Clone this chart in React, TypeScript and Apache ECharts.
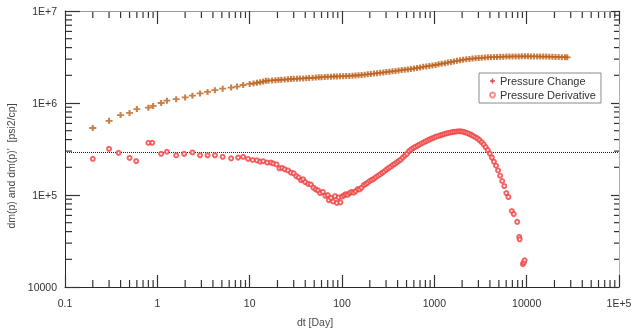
import React, { useEffect, useRef } from "react";
import * as echarts from "echarts";

// Elapsed time [day] and pseudo-pressure change dm(p) [psi2/cp]
const changeTime = [
  0.2, 0.3, 0.4, 0.5, 0.6, 0.8, 0.9, 1.1, 1.27, 1.6, 2.0, 2.4, 2.9, 3.5, 4.2, 5.1, 6.3, 7.3, 8.5,
  10, 11, 12, 13, 14, 15, 16, 17.5, 19, 20.5, 22, 24, 26, 28, 30, 32.5, 35, 38, 41, 44, 48, 52, 56,
  60, 65, 70, 76, 82, 88, 95, 103, 111, 120, 130, 140, 151, 163, 176, 190, 205, 222, 240, 259, 280,
  302, 326, 352, 380, 410, 443, 478, 516, 557, 602, 650, 702, 758, 819, 884, 955, 1030, 1110, 1200,
  1300, 1400, 1510, 1630, 1760, 1900, 2050, 2220, 2400, 2590, 2800, 3020, 3260, 3520, 3800, 4100,
  4430, 4780, 5170, 5580, 6030, 6510, 7030, 7590, 8200, 8850, 9560, 10300, 11100, 12000, 13000,
  14000, 15100, 16300, 17600, 19000, 20500, 22200, 24000, 26000, 27500,
];
const changeValue = [
  5.35e5, 6.4e5, 7.4e5, 7.8e5, 8.6e5, 8.9e5, 9.3e5, 1.0e6, 1.06e6, 1.1e6, 1.15e6, 1.2e6, 1.27e6,
  1.32e6, 1.38e6, 1.43e6, 1.47e6, 1.51e6, 1.57e6, 1.61e6, 1.63e6, 1.66e6, 1.68e6, 1.71e6, 1.74e6,
  1.75e6, 1.76e6, 1.77e6, 1.78e6, 1.79e6, 1.8e6, 1.81e6, 1.82e6, 1.83e6, 1.84e6, 1.845e6, 1.85e6,
  1.86e6, 1.87e6, 1.88e6, 1.89e6, 1.9e6, 1.91e6, 1.92e6, 1.93e6, 1.935e6, 1.94e6, 1.945e6, 1.95e6,
  1.955e6, 1.96e6, 1.97e6, 1.98e6, 1.99e6, 2.0e6, 2.02e6, 2.03e6, 2.05e6, 2.07e6, 2.09e6, 2.11e6,
  2.13e6, 2.15e6, 2.17e6, 2.19e6, 2.21e6, 2.23e6, 2.25e6, 2.28e6, 2.3e6, 2.32e6, 2.34e6, 2.37e6,
  2.4e6, 2.43e6, 2.47e6, 2.5e6, 2.53e6, 2.56e6, 2.59e6, 2.63e6, 2.67e6, 2.71e6, 2.75e6, 2.79e6,
  2.83e6, 2.87e6, 2.91e6, 2.95e6, 2.98e6, 3.01e6, 3.04e6, 3.06e6, 3.08e6, 3.1e6, 3.12e6, 3.14e6,
  3.15e6, 3.16e6, 3.17e6, 3.18e6, 3.19e6, 3.2e6, 3.2e6, 3.21e6, 3.21e6, 3.21e6, 3.22e6, 3.22e6,
  3.22e6, 3.21e6, 3.21e6, 3.21e6, 3.2e6, 3.2e6, 3.2e6, 3.19e6, 3.18e6, 3.17e6, 3.16e6, 3.15e6,
  3.15e6, 3.14e6,
];

// Elapsed time [day] and pseudo-pressure derivative dm(p)' [psi2/cp]
const derivTime = [
  0.2, 0.3, 0.38, 0.5, 0.59, 0.8, 0.88, 1.1, 1.27, 1.6, 1.95, 2.4, 2.9, 3.5, 4.2, 5.1, 6.3, 7.5, 8.5,
  9.6, 10.8, 12, 13, 14, 15.5, 17, 18, 19.5, 21, 22.5, 24, 26, 28, 30, 32, 34, 36, 38, 40, 43, 46,
  49, 52, 55, 58, 62, 66, 70, 72, 76, 80, 84, 88, 92, 96, 100, 105, 110, 115, 121, 127, 134, 141,
  148, 155, 163, 172, 181, 190, 200, 210, 221, 232, 245, 258, 272, 286, 301, 317, 334, 352, 370,
  390, 410, 432, 455, 480, 505, 532, 560, 590, 620, 654, 688, 725, 763, 804, 847, 892, 939, 989,
  1040, 1100, 1160, 1220, 1280, 1350, 1420, 1500, 1580, 1660, 1750, 1840, 1940, 2040, 2150, 2260,
  2380, 2510, 2640, 2780, 2930, 3080, 3250, 3420, 3600, 3790, 3990, 4200, 4420, 4660, 4900, 5160,
  5430, 5720, 6020, 6340, 6900, 7250, 7900, 8300, 8400, 9100, 9300, 9500,
];
const derivValue = [
  2.47e5, 3.17e5, 2.87e5, 2.53e5, 2.34e5, 3.69e5, 3.69e5, 2.8e5, 2.95e5, 2.7e5, 2.8e5, 2.9e5,
  2.7e5, 2.7e5, 2.7e5, 2.6e5, 2.5e5, 2.55e5, 2.6e5, 2.47e5, 2.4e5, 2.38e5, 2.3e5, 2.33e5, 2.25e5,
  2.25e5, 2.2e5, 2.15e5, 1.95e5, 1.97e5, 1.9e5, 1.85e5, 1.75e5, 1.72e5, 1.6e5, 1.55e5, 1.45e5,
  1.48e5, 1.38e5, 1.32e5, 1.3e5, 1.2e5, 1.15e5, 1.12e5, 1.05e5, 1.08e5, 9.8e4, 1.0e5, 8.8e4, 9.3e4,
  8.5e4, 9.7e4, 8.2e4, 9.4e4, 8.3e4, 9.6e4, 9.9e4, 1.02e5, 1.0e5, 1.05e5, 1.08e5, 1.06e5, 1.1e5,
  1.16e5, 1.15e5, 1.2e5, 1.28e5, 1.32e5, 1.36e5, 1.42e5, 1.46e5, 1.5e5, 1.56e5, 1.62e5, 1.67e5,
  1.74e5, 1.8e5, 1.88e5, 1.95e5, 2.02e5, 2.1e5, 2.17e5, 2.25e5, 2.33e5, 2.42e5, 2.55e5, 2.68e5,
  2.8e5, 3.0e5, 3.12e5, 3.24e5, 3.33e5, 3.42e5, 3.52e5, 3.63e5, 3.72e5, 3.82e5, 3.92e5, 4.02e5,
  4.12e5, 4.2e5, 4.3e5, 4.38e5, 4.45e5, 4.52e5, 4.6e5, 4.67e5, 4.72e5, 4.78e5, 4.83e5, 4.88e5,
  4.9e5, 4.93e5, 4.92e5, 4.88e5, 4.8e5, 4.72e5, 4.62e5, 4.5e5, 4.38e5, 4.25e5, 4.12e5, 3.95e5,
  3.75e5, 3.55e5, 3.32e5, 3.08e5, 2.82e5, 2.55e5, 2.3e5, 2.08e5, 1.85e5, 1.62e5, 1.42e5, 1.25e5,
  1.05e5, 9.5e4, 6.7e4, 6.2e4, 5.1e4, 3.5e4, 3.3e4, 1.77e4, 1.85e4, 1.95e4,
];

// Horizontal reference level [psi2/cp]
const referenceLevel = 2.9e5;

// Axis ranges and decade labels
const X_MIN = 0.1;
const X_MAX = 1e5;
const Y_MIN = 1e4;
const Y_MAX = 1e7;
const xTickLabels = ["0.1", "1", "10", "100", "1000", "10000", "1E+5"];
const yTickLabels = ["10000", "1E+5", "1E+6", "1E+7"];

const seriesNames = ["Pressure Change", "Pressure Derivative"];

// 2..9 multiples inside every decade of a log range
function minorTicks(min: number, max: number): number[] {
  const out: number[] = [];
  const lo = Math.round(Math.log10(min));
  const hi = Math.round(Math.log10(max));
  for (let e = lo; e < hi; e++) {
    for (let m = 2; m <= 9; m++) out.push(m * Math.pow(10, e));
  }
  return out;
}

const FONT = "Liberation Sans";
const PLUS = "path://M1.4,0H2.6V1.4H4V2.6H2.6V4H1.4V2.6H0V1.4H1.4Z";
const TICK_COLOR = "#333333";

export default function App() {
  const ref = useRef<HTMLDivElement>(null);

  useEffect(() => {
    if (!ref.current) return;
    const chart = echarts.init(ref.current, undefined, { renderer: "svg" });

    const labelStyle = { color: "#333", fontSize: 10.5, fontFamily: FONT };
    const tickStyle = { color: TICK_COLOR, width: 1.2 };

    chart.setOption({
      animation: false,
      grid: { left: 65, top: 11, right: 18, bottom: 47 },
      legend: {
        orient: "vertical",
        left: 479,
        top: 73,
        padding: [2, 5, 2, 10],
        itemGap: 2,
        itemWidth: 5,
        itemHeight: 5,
        borderColor: "#8a8a8a",
        borderWidth: 1,
        backgroundColor: "#ffffff",
        textStyle: { color: "#333", fontSize: 11, fontFamily: FONT, lineHeight: 12 },
        data: [
          { name: seriesNames[0], icon: PLUS, itemStyle: { color: "#c8202a" } },
          { name: seriesNames[1], icon: "emptyCircle", itemStyle: { color: "#f07070" } },
        ],
      },
      xAxis: [
        {
          type: "log",
          min: X_MIN,
          max: X_MAX,
          position: "bottom",
          axisLine: { lineStyle: { color: "#2b2b2b", width: 1 } },
          axisTick: { inside: true, length: 12, lineStyle: tickStyle },
          splitLine: { show: false },
          axisLabel: {
            ...labelStyle,
            margin: 10,
            formatter: (v: number) => xTickLabels[Math.round(Math.log10(v)) + 1] ?? "",
          },
        },
        {
          type: "log",
          min: X_MIN,
          max: X_MAX,
          position: "top",
          axisLine: { lineStyle: { color: "#9a9a9a", width: 1 } },
          axisTick: { inside: true, length: 13, lineStyle: tickStyle },
          splitLine: { show: false },
          axisLabel: { show: false },
        },
      ],
      yAxis: [
        {
          type: "log",
          min: Y_MIN,
          max: Y_MAX,
          position: "left",
          axisLine: { lineStyle: { color: "#2b2b2b", width: 1 } },
          axisTick: { inside: true, length: 15, lineStyle: tickStyle },
          splitLine: { show: false },
          axisLabel: {
            ...labelStyle,
            margin: 8,
            padding: [8, 0, 0, 0],
            formatter: (v: number) => yTickLabels[Math.round(Math.log10(v)) - 4] ?? "",
          },
        },
        {
          type: "log",
          min: Y_MIN,
          max: Y_MAX,
          position: "right",
          axisLine: { lineStyle: { color: "#b0b0b0", width: 1 } },
          axisTick: { inside: true, length: 8, lineStyle: tickStyle },
          splitLine: { show: false },
          axisLabel: { show: false },
        },
      ],
      series: [
        {
          name: "Reference",
          type: "line",
          data: [
            [X_MIN, referenceLevel],
            [X_MAX, referenceLevel],
          ],
          symbol: "none",
          silent: true,
          lineStyle: { color: "#1a1a1a", width: 1, type: [1, 1] },
          z: 1,
        },
        {
          name: seriesNames[0],
          type: "scatter",
          data: changeTime.map((t, i) => [t, changeValue[i]]),
          symbol: PLUS,
          symbolSize: [7, 6],
          itemStyle: { color: "#bc621c" },
          z: 3,
        },
        {
          name: seriesNames[1],
          type: "scatter",
          data: derivTime.map((t, i) => [t, derivValue[i]]),
          symbol: "emptyCircle",
          symbolSize: 4,
          itemStyle: { color: "#f04040", borderWidth: 0.9 },
          z: 3,
        },
      ],
    });

    // Minor ticks (2..9 of each decade) placed through the axes' own scales
    const toPx = (p: number[]) =>
      chart.convertToPixel({ xAxisIndex: 0, yAxisIndex: 0 }, p) as number[];
    const tickLine = (x1: number, y1: number, x2: number, y2: number) => ({
      type: "line",
      shape: { x1, y1, x2, y2 },
      style: { stroke: TICK_COLOR, lineWidth: 1.2 },
    });
    const minorLines: any[] = [];
    minorTicks(X_MIN, X_MAX).forEach((v) => {
      const b = toPx([v, Y_MIN]);
      const t = toPx([v, Y_MAX]);
      minorLines.push(tickLine(b[0], b[1], b[0], b[1] - 7));
      minorLines.push(tickLine(t[0], t[1], t[0], t[1] + 7));
    });
    minorTicks(Y_MIN, Y_MAX).forEach((v) => {
      const l = toPx([X_MIN, v]);
      const r = toPx([X_MAX, v]);
      minorLines.push(tickLine(l[0], l[1], l[0] + 7, l[1]));
      minorLines.push(tickLine(r[0], r[1], r[0] - 5, r[1]));
    });

    chart.setOption({
      graphic: [
        {
          type: "text",
          x: 11,
          y: 166,
          rotation: Math.PI / 2,
          style: {
            text: "dm(p) and dm(p)'  [psi2/cp]",
            fill: "#4a4a4a",
            fontSize: 10.5,
            fontFamily: FONT,
            textAlign: "center",
            textVerticalAlign: "middle",
          },
        },
        {
          type: "text",
          x: 315,
          y: 322,
          style: {
            text: "dt [Day]",
            fill: "#4a4a4a",
            fontSize: 10.5,
            fontFamily: FONT,
            textAlign: "center",
            textVerticalAlign: "middle",
          },
        },
        ...minorLines,
      ],
    });

    return () => chart.dispose();
  }, []);

  return (
    <div
      ref={ref}
      style={{ position: "fixed", left: 0, top: 0, width: 637, height: 334 }}
    />
  );
}
